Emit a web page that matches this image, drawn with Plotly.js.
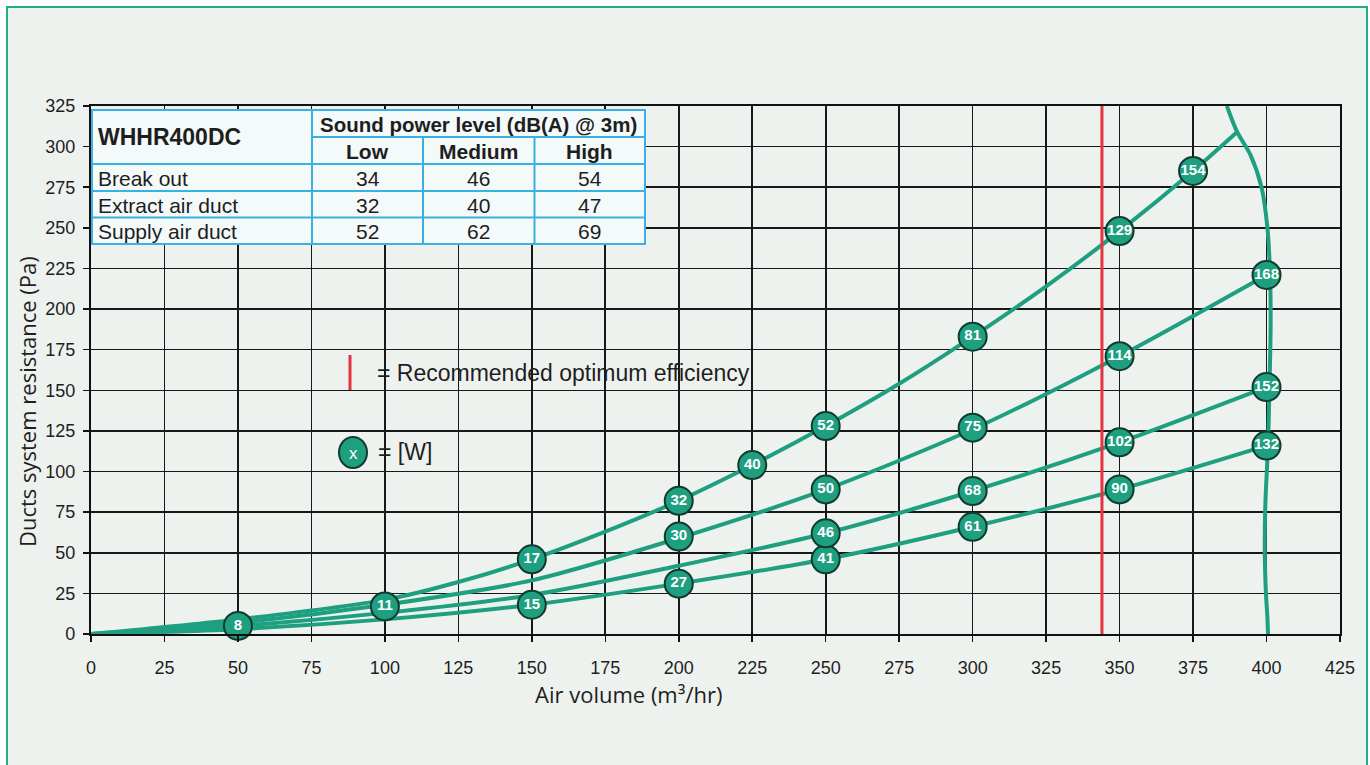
<!DOCTYPE html>
<html><head><meta charset="utf-8">
<script src="https://cdn.plot.ly/plotly-3.0.1.min.js"></script>
<style>
html,body{margin:0;padding:0;background:#ffffff;width:1370px;height:765px;overflow:hidden;}
#frame{position:absolute;left:6px;top:6px;width:1362px;height:800px;border:2px solid #1fae8c;background:#eef2ef;box-sizing:border-box;}
#chart{position:absolute;left:0;top:0;width:1370px;height:765px;}
</style></head>
<body><div id="frame"></div><div id="chart"></div>
<script>
// ---------------- data ----------------
const curveAAir      = [0, 50, 100, 125, 150, 175, 200, 225, 250, 275, 300, 325, 350, 375, 390];
const curveAPressure = [0, 9, 21, 32, 46, 63, 82, 104, 128, 154, 183, 214, 248, 285, 309];
const curveBAir      = [0, 50, 100, 150, 200, 250, 300, 350, 400];
const curveBPressure = [0, 7, 18, 33, 59, 89, 126, 171, 221];
const curveCAir      = [0, 50, 100, 150, 200, 250, 300, 350, 400];
const curveCPressure = [0, 5, 13, 24, 42, 62, 88, 118, 152];
const curveDAir      = [0, 50, 100, 150, 200, 250, 300, 350, 400];
const curveDPressure = [0, 3, 9, 18, 31, 46, 66, 89, 116];
const fanAir      = [386.5, 390, 394.5, 398.3, 400.3, 401.2, 401.4, 401, 400.5, 399.6, 399.4, 399.8, 400.3, 400.5];
const fanPressure = [325, 309, 295, 275, 250, 221, 190, 152, 116, 80, 50, 25, 10, 0];
const pointAir      = [50, 100, 150, 150, 200, 200, 200, 225, 250, 250, 250, 250, 300, 300, 300, 300, 350, 350, 350, 350, 375, 400, 400, 400];
const pointPressure = [5, 17, 18, 46, 31, 60, 82, 104, 46, 62, 89, 128, 66, 88, 127, 183, 89, 118, 171, 248, 285, 116, 152, 221];
const pointWatts    = [8, 11, 15, 17, 27, 30, 32, 40, 41, 46, 50, 52, 61, 68, 75, 81, 90, 102, 114, 129, 154, 132, 152, 168];
const recommendedAir = 344;
const pressureRange = [0, 325];
const airRange = [0, 425];

const tableModel  = 'WHHR400DC';
const tableTitle  = 'Sound power level (dB(A) @ 3m)';
const speedLevels = ['Low', 'Medium', 'High'];
const soundSources = ['Break out', 'Extract air duct', 'Supply air duct'];
const soundLow    = [34, 32, 52];
const soundMedium = [46, 40, 62];
const soundHigh   = [54, 47, 69];

const legendRedText = '= Recommended optimum efficiency';
const legendWattText = '= [W]';
const legendWattSymbol = 'x';
const xTitle = 'Air volume (m³/hr)';
const yTitle = 'Ducts system resistance (Pa)';

// ---------------- geometry helpers (pixel -> paper) ----------------
const L = 91, R = 1340, T = 106, B = 634;
const px = x => (x - L) / (R - L);
const py = y => (B - y) / (B - T);

const GREEN = '#1e9f80';
const DARK = '#123b2f';
const TXT = '#1e1e1e';
const TBL_LINE = '#3ab1e3';

function curve(x, y) {
  return {x: x, y: y, type: 'scatter', mode: 'lines', hoverinfo: 'skip',
          line: {color: GREEN, width: 4, shape: 'spline', smoothing: 0.8}};
}

const traces = [
  curve(curveDAir, curveDPressure),
  curve(curveCAir, curveCPressure),
  curve(curveBAir, curveBPressure),
  curve(curveAAir, curveAPressure),
  curve(fanAir, fanPressure),
  {x: [recommendedAir, recommendedAir], y: pressureRange, type: 'scatter', mode: 'lines',
   line: {color: '#e5333f', width: 3}, hoverinfo: 'skip'},
  {x: pointAir, y: pointPressure, text: pointWatts.map(String), type: 'scatter',
   mode: 'markers+text', textposition: 'middle center', cliponaxis: false,
   marker: {size: 28, color: GREEN, line: {color: DARK, width: 2}},
   textfont: {family: 'Liberation Sans Narrow, Arial Narrow, Liberation Sans, Arial', size: 15, color: '#ffffff', weight: 'bold'},
   hoverinfo: 'skip'}
];

// ---------------- table ----------------
const colX = [92, 312, 423, 534.5, 645];
const rowY = [110, 137, 164, 191, 217.5, 244];
const shapes = [];
const annotations = [];
function lineShape(x0, y0, x1, y1, color, width) {
  shapes.push({type: 'line', xref: 'paper', yref: 'paper', layer: 'above',
    x0: px(x0), y0: py(y0), x1: px(x1), y1: py(y1), line: {color: color, width: width}});
}
shapes.push({type: 'rect', xref: 'paper', yref: 'paper', layer: 'above',
  x0: px(colX[0]), y0: py(rowY[0]), x1: px(colX[4]), y1: py(rowY[5]),
  fillcolor: '#f4f9fa', line: {color: TBL_LINE, width: 2}});
lineShape(colX[1], rowY[0], colX[1], rowY[5], TBL_LINE, 2);
lineShape(colX[2], rowY[1], colX[2], rowY[5], TBL_LINE, 2);
lineShape(colX[3], rowY[1], colX[3], rowY[5], TBL_LINE, 2);
lineShape(colX[1], rowY[1], colX[4], rowY[1], TBL_LINE, 2);
for (let r = 2; r < 5; r++) lineShape(colX[0], rowY[r], colX[4], rowY[r], TBL_LINE, 2);

function txt(x, y, text, opts) {
  annotations.push(Object.assign({xref: 'paper', yref: 'paper', x: px(x), y: py(y), text: text,
    showarrow: false, xanchor: 'center', yanchor: 'middle',
    font: {family: 'Liberation Sans, Arial', size: 21, color: TXT}}, opts || {}));
}
const TFONT = 'Liberation Sans, Arial';
txt(96, (rowY[0] + rowY[2]) / 2, '<b>' + tableModel + '</b>', {xanchor: 'left', font: {family: TFONT, size: 23, color: TXT}});
txt((colX[1] + colX[4]) / 2, (rowY[0] + rowY[1]) / 2 + 1, '<b>' + tableTitle + '</b>', {font: {family: TFONT, size: 20.5, color: TXT}});
speedLevels.forEach((s, i) => txt((colX[i + 1] + colX[i + 2]) / 2, (rowY[1] + rowY[2]) / 2 + 1, '<b>' + s + '</b>', {font: {family: TFONT, size: 21, color: TXT}}));
const soundCols = [soundLow, soundMedium, soundHigh];
soundSources.forEach((s, r) => {
  const yc = (rowY[r + 2] + rowY[r + 3]) / 2 + 1;
  txt(96, yc, s, {xanchor: 'left'});
  soundCols.forEach((col, c) => txt((colX[c + 1] + colX[c + 2]) / 2, yc, String(col[r])));
});

// ---------------- legend glyphs ----------------
lineShape(350, 355, 350, 390, '#e5333f', 3);
shapes.push({type: 'circle', xref: 'paper', yref: 'paper', layer: 'above',
  x0: px(339), x1: px(367), y0: py(437), y1: py(468),
  fillcolor: GREEN, line: {color: DARK, width: 2}});
txt(353, 453, legendWattSymbol, {font: {family: 'Liberation Sans Narrow, Liberation Sans, Arial', size: 17, color: '#ffffff'}});
txt(375, 373, legendRedText, {xanchor: 'left', font: {family: 'Liberation Sans, Arial', size: 23, color: TXT}});
txt(376, 452, legendWattText, {xanchor: 'left', font: {family: 'Liberation Sans, Arial', size: 23, color: TXT}});

// axis titles
txt(628, 694, xTitle, {font: {family: 'Open Sans, DejaVu Sans', size: 22, color: TXT}});
txt(27, 402, yTitle, {textangle: -90, font: {family: 'Open Sans, DejaVu Sans', size: 22, color: TXT}});

const axisCommon = {
  showgrid: true, gridcolor: '#181818', gridwidth: 1.6, zeroline: false,
  showline: true, mirror: true, linecolor: '#111111', linewidth: 2.2,
  ticks: 'outside', ticklen: 6, tickwidth: 1.5, tickcolor: '#111111',
  tickfont: {family: 'Liberation Sans, Arial', size: 18, color: TXT},
  dtick: 25, tick0: 0, fixedrange: true
};

const layout = {
  width: 1370, height: 765,
  margin: {l: L, r: 1370 - R, t: T, b: 765 - B, pad: 0},
  paper_bgcolor: 'rgba(0,0,0,0)', plot_bgcolor: 'rgba(0,0,0,0)',
  showlegend: false,
  xaxis: Object.assign({}, axisCommon, {range: airRange, ticklabelstandoff: 10}),
  yaxis: Object.assign({}, axisCommon, {range: pressureRange, ticklabelstandoff: 4}),
  shapes: shapes, annotations: annotations
};

Plotly.newPlot('chart', traces, layout, {displayModeBar: false, staticPlot: true});
</script></body></html>
